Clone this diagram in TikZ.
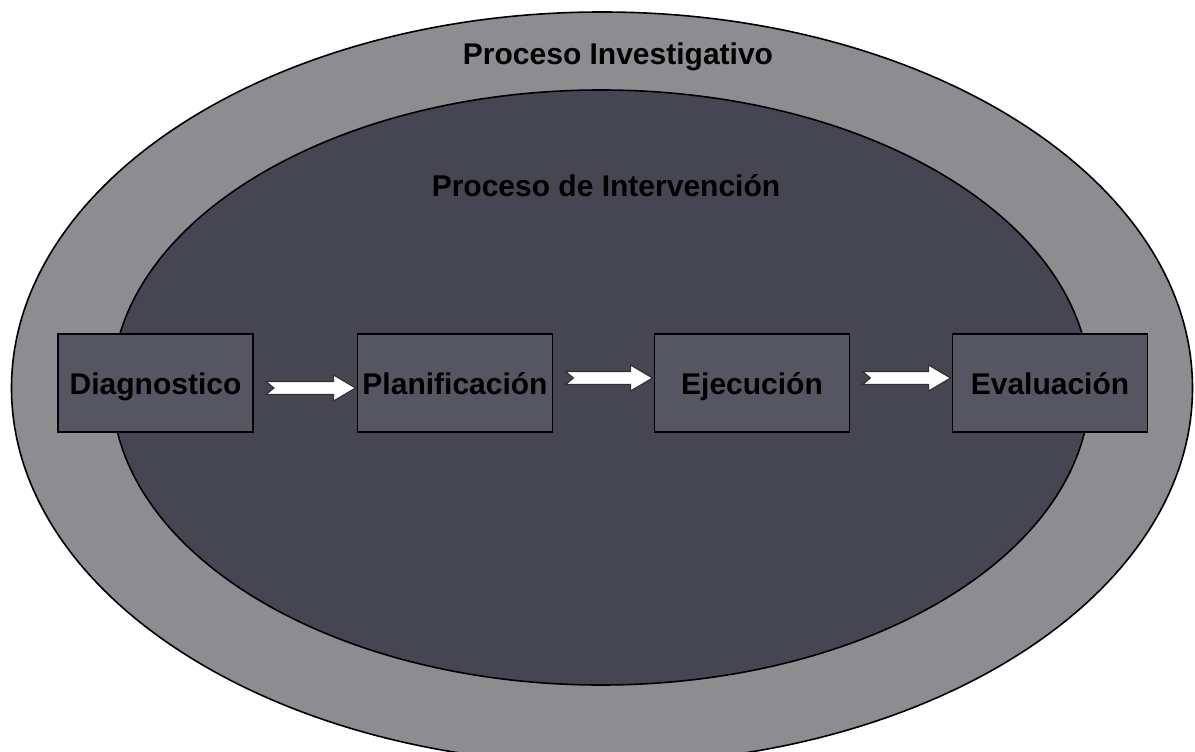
\documentclass[tikz,border=0pt]{standalone}
\usepackage{fontspec}
\setmainfont{Liberation Sans}
\usetikzlibrary{shapes.geometric,calc}
\definecolor{outerfill}{RGB}{140,140,145}
\definecolor{innerfill}{RGB}{70,70,82}
\definecolor{boxfill}{RGB}{86,86,98}
\begin{document}
\begin{tikzpicture}[x=1pt,y=-1pt,
  lbl/.style={font=\bfseries\fontsize{30}{34}\selectfont, text=black},
  stepbox/.style={draw=black, line width=1.8pt, fill=boxfill, minimum width=195pt, minimum height=98pt, inner sep=0pt, text height=22pt, text depth=0pt, lbl},
  blockarrow/.style={draw=black!80, line width=1.2pt, fill=white}]
\useasboundingbox (0,0) rectangle (1195,752);
\fill[white] (0,0) rectangle (1195,752);
\begin{scope}
\clip (0,0) rectangle (1195,752);
\node[draw=black, line width=1.6pt, fill=outerfill, ellipse, minimum width=1181pt, minimum height=752pt, inner sep=0pt] (outer) at (602,388) {};
\end{scope}
\node[draw=black, line width=1.6pt, fill=innerfill, ellipse, minimum width=978pt, minimum height=595pt, inner sep=0pt] (inner) at (601,387.5) {};
\node[lbl, anchor=base] (tout) at (618,65) {Proceso Investigativo};
\node[lbl, anchor=base] (tin) at (606,196) {Proceso de Intervención};
\node[stepbox] (d) at (155.5,383) {Diagnostico};
\node[stepbox] (p) at (455,383) {Planificación};
\node[stepbox] (e) at (752,383) {Ejecución};
\node[stepbox] (v) at (1050,383) {Evaluación};
\foreach \a/\b/\o in {d/p/5,p/e/-5,e/v/-5}{
  \path (\a.east) ++(12,\o) coordinate (s);
  \path (\b.west) ++(-1,\o) coordinate (t);
  \draw[blockarrow] ($(s)+(0,-6.5)$) -- ($(t)+(-22,-6.5)$) -- ($(t)+(-22,-13)$) -- (t) -- ($(t)+(-22,13)$) -- ($(t)+(-22,6.5)$) -- ($(s)+(0,6.5)$) -- ($(s)+(8,0)$) -- cycle;
}
\end{tikzpicture}
\end{document}
